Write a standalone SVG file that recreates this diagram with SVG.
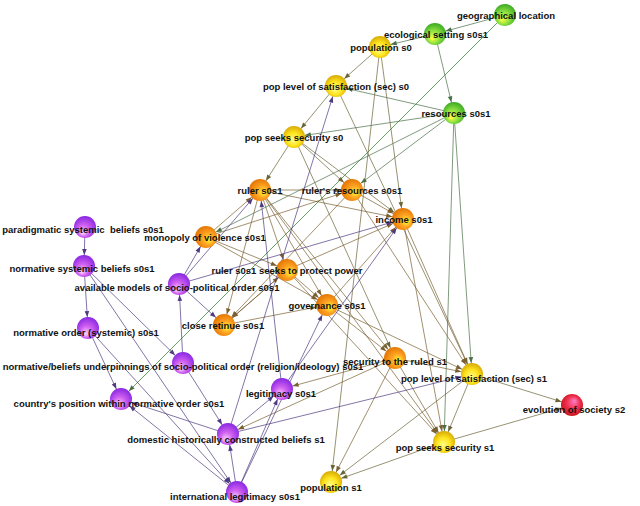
<svg xmlns="http://www.w3.org/2000/svg" width="640" height="506" viewBox="0 0 640 506">
<style>
.e{stroke-width:0.7;fill:none}
.o{stroke:#7a6030;marker-end:url(#aO)}
.y{stroke:#6a6436;marker-end:url(#aY)}
.g{stroke:#4a7048;marker-end:url(#aG)}
.p{stroke:#4e3a80;marker-end:url(#aP)}
text{font-family:"Liberation Sans",Arial,sans-serif;font-size:9.5px;font-weight:bold;fill:#111;text-anchor:middle}
</style>
<defs>
<marker id="aO" viewBox="-20 -5 25 10" markerWidth="25" markerHeight="10" refX="0" refY="0" markerUnits="userSpaceOnUse" orient="auto" overflow="visible"><path d="M-17,-2.3 L-11,0 L-17,2.3 z" fill="#7a6030"/></marker>
<marker id="aY" viewBox="-20 -5 25 10" markerWidth="25" markerHeight="10" refX="0" refY="0" markerUnits="userSpaceOnUse" orient="auto" overflow="visible"><path d="M-17,-2.3 L-11,0 L-17,2.3 z" fill="#6a6436"/></marker>
<marker id="aG" viewBox="-20 -5 25 10" markerWidth="25" markerHeight="10" refX="0" refY="0" markerUnits="userSpaceOnUse" orient="auto" overflow="visible"><path d="M-17,-2.3 L-11,0 L-17,2.3 z" fill="#4a7048"/></marker>
<marker id="aP" viewBox="-20 -5 25 10" markerWidth="25" markerHeight="10" refX="0" refY="0" markerUnits="userSpaceOnUse" orient="auto" overflow="visible"><path d="M-17,-2.3 L-11,0 L-17,2.3 z" fill="#4e3a80"/></marker>
<radialGradient id="gO" cx="0.55" cy="0.55" r="0.6" fx="0.68" fy="0.62"><stop offset="0" stop-color="#ffff30"/><stop offset="0.45" stop-color="#ffa424"/><stop offset="1" stop-color="#e07000"/></radialGradient>
<radialGradient id="gY" cx="0.5" cy="0.55" r="0.6" fx="0.45" fy="0.65"><stop offset="0" stop-color="#ffff90"/><stop offset="0.5" stop-color="#ffe41e"/><stop offset="1" stop-color="#d0a000"/></radialGradient>
<radialGradient id="gG" cx="0.5" cy="0.55" r="0.6" fx="0.35" fy="0.72"><stop offset="0" stop-color="#ffff40"/><stop offset="0.5" stop-color="#8ae040"/><stop offset="1" stop-color="#30a020"/></radialGradient>
<radialGradient id="gP" cx="0.5" cy="0.55" r="0.6" fx="0.38" fy="0.78"><stop offset="0" stop-color="#ffd8ff"/><stop offset="0.45" stop-color="#d060f0"/><stop offset="1" stop-color="#8020e0"/></radialGradient>
<radialGradient id="gR" cx="0.5" cy="0.5" r="0.6" fx="0.62" fy="0.3"><stop offset="0" stop-color="#ff80c8"/><stop offset="0.5" stop-color="#f03050"/><stop offset="1" stop-color="#c01010"/></radialGradient>
</defs>
<rect width="640" height="506" fill="#fff"/>
<g id="edges">
<line class="e g" x1="505" y1="15" x2="435" y2="34"/>
<line class="e g" x1="435" y1="34" x2="380" y2="47"/>
<line class="e g" x1="505" y1="15" x2="121" y2="399" style="stroke:#207a20"/>
<line class="e g" x1="435" y1="34" x2="454" y2="113"/>
<line class="e g" x1="454" y1="113" x2="336" y2="86"/>
<line class="e g" x1="454" y1="113" x2="294" y2="137"/>
<line class="e g" x1="454" y1="113" x2="352" y2="190"/>
<line class="e g" x1="454" y1="113" x2="206" y2="237"/>
<line class="e g" x1="454" y1="113" x2="472" y2="374"/>
<line class="e g" x1="454" y1="113" x2="444" y2="442"/>
<line class="e y" x1="380" y1="47" x2="336" y2="86"/>
<line class="e y" x1="380" y1="47" x2="331" y2="482"/>
<line class="e y" x1="380" y1="47" x2="403" y2="219"/>
<line class="e y" x1="336" y1="86" x2="294" y2="137"/>
<line class="e y" x1="336" y1="86" x2="472" y2="374"/>
<line class="e y" x1="294" y1="137" x2="260" y2="190"/>
<line class="e y" x1="294" y1="137" x2="352" y2="190"/>
<line class="e y" x1="294" y1="137" x2="403" y2="219"/>
<line class="e y" x1="294" y1="137" x2="395" y2="358"/>
<line class="e o" x1="260" y1="190" x2="352" y2="190"/>
<line class="e o" x1="260" y1="190" x2="403" y2="219"/>
<line class="e o" x1="260" y1="190" x2="224" y2="325"/>
<line class="e o" x1="260" y1="190" x2="287" y2="270"/>
<line class="e o" x1="260" y1="190" x2="327" y2="305"/>
<line class="e o" x1="260" y1="190" x2="395" y2="358"/>
<line class="e o" x1="260" y1="190" x2="444" y2="442"/>
<line class="e o" x1="206" y1="237" x2="260" y2="190"/>
<line class="e o" x1="206" y1="237" x2="352" y2="190"/>
<line class="e o" x1="206" y1="237" x2="287" y2="270"/>
<line class="e o" x1="206" y1="237" x2="327" y2="305"/>
<line class="e o" x1="287" y1="270" x2="403" y2="219"/>
<line class="e o" x1="287" y1="270" x2="224" y2="325"/>
<line class="e o" x1="287" y1="270" x2="327" y2="305"/>
<line class="e o" x1="287" y1="270" x2="444" y2="442"/>
<line class="e o" x1="224" y1="325" x2="287" y2="270"/>
<line class="e o" x1="224" y1="325" x2="327" y2="305"/>
<line class="e o" x1="327" y1="305" x2="403" y2="219"/>
<line class="e o" x1="327" y1="305" x2="395" y2="358"/>
<line class="e o" x1="327" y1="305" x2="472" y2="374"/>
<line class="e o" x1="352" y1="190" x2="403" y2="219"/>
<line class="e o" x1="352" y1="190" x2="224" y2="325"/>
<line class="e o" x1="352" y1="190" x2="472" y2="374"/>
<line class="e o" x1="403" y1="219" x2="472" y2="374"/>
<line class="e o" x1="403" y1="219" x2="444" y2="442"/>
<line class="e o" x1="395" y1="358" x2="282" y2="389"/>
<line class="e o" x1="395" y1="358" x2="228" y2="434"/>
<line class="e o" x1="395" y1="358" x2="472" y2="374"/>
<line class="e o" x1="395" y1="358" x2="444" y2="442"/>
<line class="e o" x1="395" y1="358" x2="331" y2="482"/>
<line class="e p" x1="85" y1="227" x2="84" y2="266"/>
<line class="e p" x1="84" y1="266" x2="88" y2="328"/>
<line class="e p" x1="84" y1="266" x2="183" y2="363"/>
<line class="e p" x1="84" y1="266" x2="237" y2="492"/>
<line class="e p" x1="88" y1="328" x2="121" y2="399"/>
<line class="e p" x1="88" y1="328" x2="237" y2="492"/>
<line class="e p" x1="183" y1="363" x2="179" y2="284"/>
<line class="e p" x1="183" y1="363" x2="228" y2="434"/>
<line class="e p" x1="179" y1="284" x2="260" y2="190"/>
<line class="e p" x1="179" y1="284" x2="206" y2="237"/>
<line class="e p" x1="179" y1="284" x2="224" y2="325"/>
<line class="e p" x1="179" y1="284" x2="403" y2="219"/>
<line class="e p" x1="237" y1="492" x2="121" y2="399"/>
<line class="e p" x1="228" y1="434" x2="121" y2="399"/>
<line class="e p" x1="228" y1="434" x2="282" y2="389"/>
<line class="e p" x1="237" y1="492" x2="228" y2="434"/>
<line class="e p" x1="237" y1="492" x2="282" y2="389"/>
<line class="e p" x1="237" y1="492" x2="327" y2="305"/>
<line class="e p" x1="228" y1="434" x2="336" y2="86"/>
<line class="e p" x1="228" y1="434" x2="472" y2="374"/>
<line class="e p" x1="282" y1="389" x2="260" y2="190"/>
<line class="e p" x1="282" y1="389" x2="403" y2="219"/>
<line class="e y" x1="472" y1="374" x2="444" y2="442"/>
<line class="e y" x1="472" y1="374" x2="331" y2="482"/>
<line class="e y" x1="472" y1="374" x2="572" y2="405"/>
<line class="e y" x1="444" y1="442" x2="572" y2="405"/>
<line class="e y" x1="444" y1="442" x2="331" y2="482"/>
</g>
<g id="n-geo"><circle cx="505" cy="15" r="11" fill="url(#gG)"/><text x="506" y="18.5">geographical location</text></g>
<g id="n-eco"><circle cx="435" cy="34" r="11" fill="url(#gG)"/><text x="436" y="37.5">ecological setting s0s1</text></g>
<g id="n-pops0"><circle cx="380" cy="47" r="11" fill="url(#gY)"/><text x="381" y="50.5">population s0</text></g>
<g id="n-pls0"><circle cx="336" cy="86" r="11" fill="url(#gY)"/><text x="336" y="89.5">pop level of satisfaction (sec) s0</text></g>
<g id="n-res"><circle cx="454" cy="113" r="11" fill="url(#gG)"/><text x="456" y="116.5">resources s0s1</text></g>
<g id="n-pss0"><circle cx="294" cy="137" r="11" fill="url(#gY)"/><text x="294" y="140.5">pop seeks security s0</text></g>
<g id="n-ruler"><circle cx="260" cy="190" r="11" fill="url(#gO)"/><text x="260" y="193.5">ruler s0s1</text></g>
<g id="n-rres"><circle cx="352" cy="190" r="11" fill="url(#gO)"/><text x="352" y="193.5">ruler's resources s0s1</text></g>
<g id="n-inc"><circle cx="403" cy="219" r="11" fill="url(#gO)"/><text x="404" y="222.5">income s0s1</text></g>
<g id="n-mon"><circle cx="206" cy="237" r="11" fill="url(#gO)"/><text x="205" y="240.5">monopoly of violence s0s1</text></g>
<g id="n-prot"><circle cx="287" cy="270" r="11" fill="url(#gO)"/><text x="287" y="273.5">ruler s0s1 seeks to protect power</text></g>
<g id="n-gov"><circle cx="327" cy="305" r="11" fill="url(#gO)"/><text x="327" y="308.5">governance s0s1</text></g>
<g id="n-ret"><circle cx="224" cy="325" r="11" fill="url(#gO)"/><text x="223" y="328.5">close retinue s0s1</text></g>
<g id="n-sec"><circle cx="395" cy="358" r="11" fill="url(#gO)"/><text x="395" y="364.5">security to the ruled s1</text></g>
<g id="n-pls1"><circle cx="472" cy="374" r="11" fill="url(#gY)"/><text x="474" y="381.5">pop level of satisfaction (sec) s1</text></g>
<g id="n-pss1"><circle cx="444" cy="442" r="11" fill="url(#gY)"/><text x="445" y="450.5">pop seeks security s1</text></g>
<g id="n-pop1"><circle cx="331" cy="482" r="11" fill="url(#gY)"/><text x="331" y="490.5">population s1</text></g>
<g id="n-evo"><circle cx="572" cy="405" r="11" fill="url(#gR)"/><text x="574" y="412.5">evolution of society s2</text></g>
<g id="n-par"><circle cx="85" cy="227" r="11" fill="url(#gP)"/><text x="83" y="232.5" xml:space="preserve">paradigmatic systemic  beliefs s0s1</text></g>
<g id="n-nsb"><circle cx="84" cy="266" r="11" fill="url(#gP)"/><text x="82" y="271.5">normative systemic beliefs s0s1</text></g>
<g id="n-avm"><circle cx="179" cy="284" r="11" fill="url(#gP)"/><text x="177" y="290.5">available models of socio-political order s0s1</text></g>
<g id="n-nor"><circle cx="88" cy="328" r="11" fill="url(#gP)"/><text x="86" y="335.5">normative order (systemic) s0s1</text></g>
<g id="n-und"><circle cx="183" cy="363" r="11" fill="url(#gP)"/><text x="183" y="369.5">normative/beliefs underpinnings of socio-political order (religion/ideology) s0s1</text></g>
<g id="n-leg"><circle cx="282" cy="389" r="11" fill="url(#gP)"/><text x="281" y="396.5">legitimacy s0s1</text></g>
<g id="n-cty"><circle cx="121" cy="399" r="11" fill="url(#gP)"/><text x="119" y="406.5">country's position within normative order s0s1</text></g>
<g id="n-dom"><circle cx="228" cy="434" r="11" fill="url(#gP)"/><text x="226" y="442.5">domestic historically constructed beliefs s1</text></g>
<g id="n-intl"><circle cx="237" cy="492" r="11" fill="url(#gP)"/><text x="235" y="499.5">international legitimacy s0s1</text></g>
</svg>
